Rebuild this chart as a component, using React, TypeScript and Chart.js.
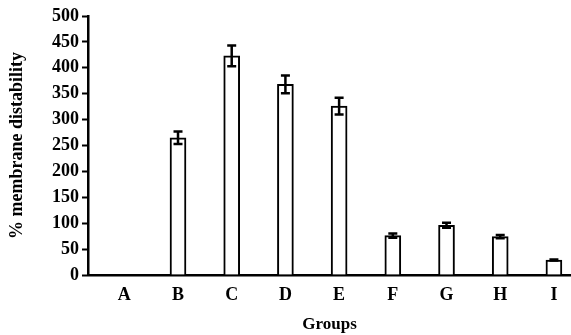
import React, { useEffect, useRef } from "react";
import { Chart, registerables } from "chart.js";

Chart.register(...registerables);

const categories = ["A", "B", "C", "D", "E", "F", "G", "H", "I"];
const values = [0, 265, 423, 368, 326, 76, 96, 74, 29];
const errors = [0, 12, 20, 17, 16, 4, 5, 3, 1];
const yTicks = [0, 50, 100, 150, 200, 250, 300, 350, 400, 450, 500];

const FONT = "'Liberation Serif', 'Times New Roman', serif";

const errorBarPlugin = {
  id: "errorBars",
  afterDatasetsDraw(chart: any) {
    const meta = chart.getDatasetMeta(0);
    const y = chart.scales.y;
    const ctx = chart.ctx;
    ctx.save();
    ctx.strokeStyle = "#000";
    ctx.lineWidth = 2.5;
    meta.data.forEach((bar: any, i: number) => {
      const e = errors[i];
      const v = values[i];
      if (!v) return;
      const x = bar.x;
      const top = y.getPixelForValue(v + e);
      const bot = y.getPixelForValue(v - e);
      const half = 4.5;
      ctx.beginPath();
      ctx.moveTo(x, top);
      ctx.lineTo(x, bot);
      ctx.moveTo(x - half, top);
      ctx.lineTo(x + half, top);
      ctx.moveTo(x - half, bot);
      ctx.lineTo(x + half, bot);
      ctx.stroke();
    });
    ctx.restore();
  },
};

export default function App() {
  const ref = useRef<HTMLCanvasElement>(null);
  useEffect(() => {
    const chart = new Chart(ref.current!, {
      type: "bar",
      data: {
        datasets: [
          {
            data: values.map((v, i) => ({ x: i, y: v })),
            backgroundColor: "#fff",
            borderColor: "#000",
            borderWidth: 2,
            barThickness: 16,
          },
        ],
      },
      options: {
        animation: false,
        responsive: true,
        maintainAspectRatio: false,
        layout: { padding: { top: 16, right: 0, left: 0, bottom: 0 } },
        plugins: { legend: { display: false }, tooltip: { enabled: false } },
        scales: {
          x: {
            type: "linear",
            offset: false,
            min: -0.676,
            max: 8.318,
            afterBuildTicks(scale: any) {
              scale.ticks = categories.map((_, i) => ({ value: i }));
            },
            afterFit(scale: any) {
              scale.height = 60;
            },
            grid: { display: false, drawTicks: false, offset: false },
            border: { color: "#000", width: 2.5 },
            ticks: {
              color: "#000",
              padding: 10,
              autoSkip: false,
              maxRotation: 0,
              callback: (v: any) => categories[Math.round(Number(v))] ?? "",
              font: { family: FONT, size: 18, weight: "bold" },
            },
            title: {
              display: true,
              text: "Groups",
              color: "#000",
              font: { family: FONT, size: 17, weight: "bold" },
              padding: { top: 4, bottom: 0 },
            },
          },
          y: {
            min: 0,
            max: 500,
            afterBuildTicks(scale: any) {
              scale.ticks = yTicks.map((v) => ({ value: v }));
            },
            afterFit(scale: any) {
              scale.width = 88;
            },
            grid: {
              display: true,
              drawOnChartArea: false,
              drawTicks: true,
              tickLength: 6,
              tickWidth: 2,
              color: "#000",
            },
            border: { color: "#000", width: 2.5 },
            ticks: {
              color: "#000",
              padding: 3,
              font: { family: FONT, size: 18, weight: "bold" },
            },
            title: {
              display: true,
              text: "% membrane distability",
              color: "#000",
              font: { family: FONT, size: 18, weight: "bold" },
              padding: { top: 7, bottom: 0 },
            },
          },
        },
      },
      plugins: [errorBarPlugin],
    });
    return () => chart.destroy();
  }, []);
  return (
    <div style={{ position: "fixed", left: 0, top: 0, width: 571, height: 335, background: "#fff" }}>
      <canvas ref={ref} />
    </div>
  );
}
